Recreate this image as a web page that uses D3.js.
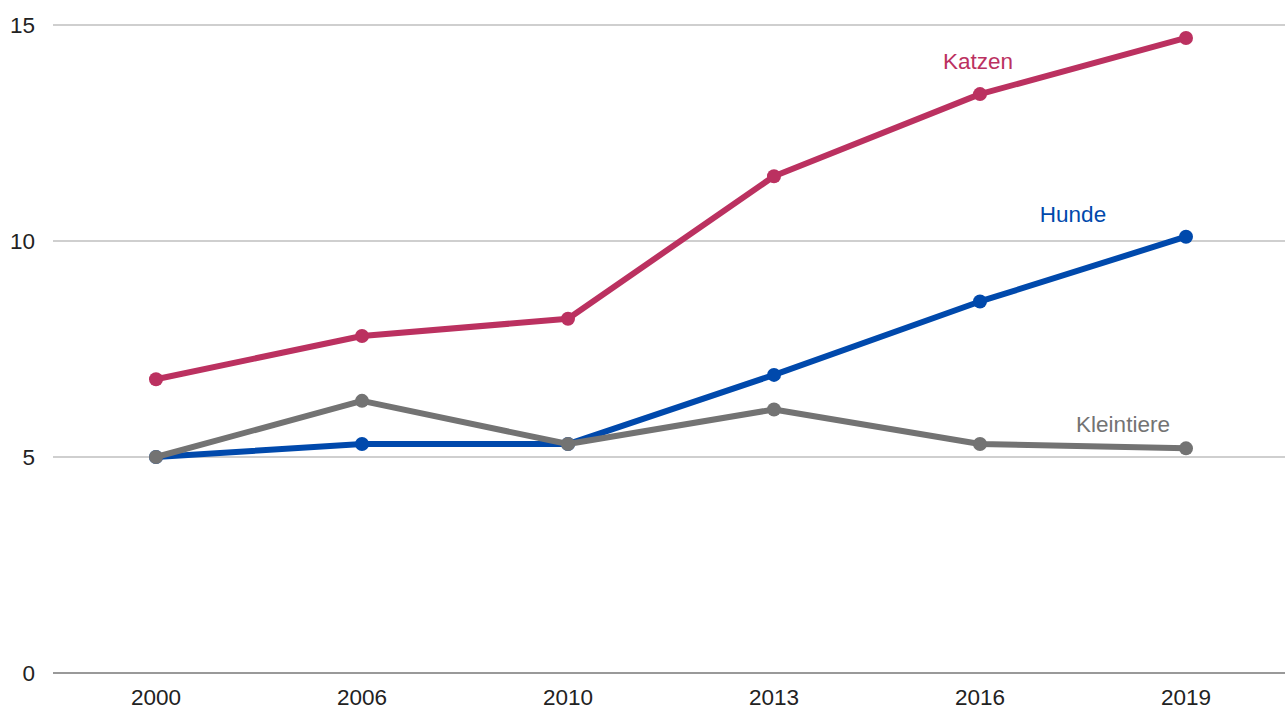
<!DOCTYPE html>
<html>
<head>
<meta charset="utf-8">
<script src="https://cdn.jsdelivr.net/npm/d3@7"></script>
<style>
  body { margin: 0; background: #fff; }
  svg text { font-family: "Liberation Sans", Arial, sans-serif; }
</style>
</head>
<body>
<svg id="chart" width="1285" height="708"></svg>
<script>
// data
const years = ["2000", "2006", "2010", "2013", "2016", "2019"]
const katzen = [6.8, 7.8, 8.2, 11.5, 13.4, 14.7]
const hunde = [5.0, 5.3, 5.3, 6.9, 8.6, 10.1]
const kleintiere = [5.0, 6.3, 5.3, 6.1, 5.3, 5.2]
const yTicks = [0, 5, 10, 15]

const series = [
  {name: "Katzen", values: katzen, color: "#bb3160", lx: 978, ly: 61},
  {name: "Hunde", values: hunde, color: "#0049ac", lx: 1073, ly: 214},
  {name: "Kleintiere", values: kleintiere, color: "#737373", lx: 1123, ly: 424}
]

const svg = d3.select("#chart")
const left = 53, right = 1285
const fontSize = "22.5px"

let xScale = d3.scalePoint().domain(years).range([156, 1186])
let yScale = d3.scaleLinear().domain([0, 15]).range([673, 25])

// gridlines
svg.append("g").selectAll("line")
    .data(yTicks)
    .enter()
    .append("line")
    .attr("x1", left).attr("x2", right)
    .attr("y1", d => yScale(d)).attr("y2", d => yScale(d))
    .attr("stroke", d => d == 0 ? "#777" : "#bfbfbf")
    .attr("stroke-width", d => d == 0 ? 1.6 : 1.3)

// y labels
svg.append("g").selectAll("text")
    .data(yTicks)
    .enter()
    .append("text")
    .attr("x", 35)
    .attr("y", d => yScale(d))
    .attr("dy", "0.35em")
    .attr("text-anchor", "end")
    .style("font-size", fontSize)
    .attr("fill", "#222")
    .text(d => d)

// x labels
svg.append("g").selectAll("text")
    .data(years)
    .enter()
    .append("text")
    .attr("x", d => xScale(d))
    .attr("y", 697)
    .attr("dy", "0.35em")
    .attr("text-anchor", "middle")
    .style("font-size", fontSize)
    .attr("fill", "#222")
    .text(d => d)

let line = d3.line()
    .x((d, i) => xScale(years[i]))
    .y(d => yScale(d))

series.forEach(s => {
    let g = svg.append("g")
    g.append("path")
        .attr("d", line(s.values))
        .attr("fill", "none")
        .attr("stroke", s.color)
        .attr("stroke-width", 6)
        .attr("stroke-linejoin", "round")
    g.selectAll("circle")
        .data(s.values)
        .enter()
        .append("circle")
        .attr("cx", (d, i) => xScale(years[i]))
        .attr("cy", d => yScale(d))
        .attr("r", 7)
        .attr("fill", s.color)
    g.append("text")
        .attr("x", s.lx)
        .attr("y", s.ly)
        .attr("dy", "0.35em")
        .attr("text-anchor", "middle")
        .style("font-size", fontSize)
        .attr("fill", s.color)
        .text(s.name)
})
</script>
</body>
</html>
